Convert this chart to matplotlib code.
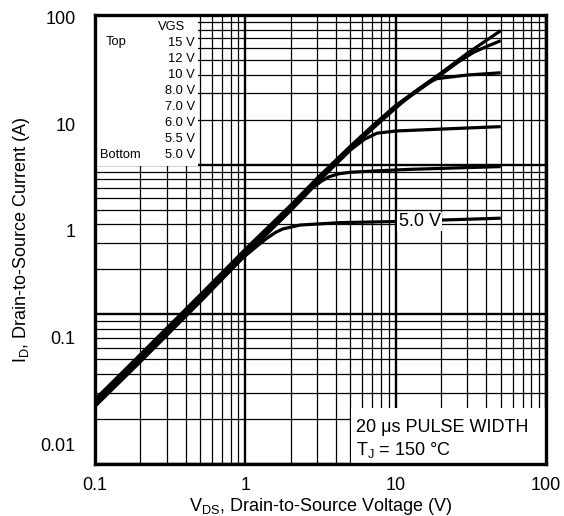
import matplotlib
matplotlib.use('Agg')
import matplotlib.pyplot as plt
from matplotlib.patches import Rectangle
from matplotlib.ticker import FixedLocator, FixedFormatter, NullLocator, LogLocator, NullFormatter

plt.rcParams['font.family'] = ['Liberation Sans', 'DejaVu Sans']
plt.rcParams['mathtext.default'] = 'regular'

# ---- data (VDS in V, ID in A) ----
vds_15 = [0.1, 0.2, 0.5, 1, 2, 3, 5, 7, 10, 14, 20, 30, 50]
id_15 = [0.0262, 0.069, 0.25, 0.67, 1.73, 3.1, 6.2, 9.6, 14.9, 21, 30, 46, 75]

vds_12 = [0.1, 0.2, 0.5, 1, 2, 3, 5, 7, 10, 14, 20, 26, 33, 40, 50]
id_12 = [0.0255, 0.067, 0.243, 0.65, 1.68, 3.0, 6.0, 9.3, 14.5, 20.4, 29, 38, 47, 53, 60.4]

vds_10 = [0.1, 0.2, 0.5, 1, 2, 3, 5, 7, 10, 13, 16.1, 18.8, 30, 50]
id_10 = [0.0248, 0.065, 0.236, 0.63, 1.63, 2.9, 5.85, 9.0, 14.1, 19.3, 24.0, 26.6, 28.8, 30.2]

vds_8 = [0.1, 0.2, 0.5, 1, 2, 3, 5, 6.2, 7.5, 10, 17.8, 50]
id_8 = [0.0240, 0.063, 0.229, 0.61, 1.58, 2.82, 5.7, 7.2, 8.2, 8.6, 8.9, 9.45]

vds_6 = [0.1, 0.2, 0.5, 1, 2, 2.8, 3.2, 3.6, 4.2, 5, 7.9, 12.5, 50]
id_6 = [0.0233, 0.061, 0.222, 0.59, 1.54, 2.52, 2.9, 3.2, 3.42, 3.53, 3.65, 3.76, 3.99]

vds_5 = [0.1, 0.2, 0.5, 0.96, 1.2, 1.39, 1.6, 1.78, 2.31, 4.27, 10, 50]
id_5 = [0.0226, 0.059, 0.215, 0.555, 0.72, 0.85, 0.97, 1.04, 1.13, 1.19, 1.22, 1.31]

legend_vgs = ['15 V', '12 V', '10 V', '8.0 V', '7.0 V', '6.0 V', '5.5 V', '5.0 V']
x_ticks = [0.1, 1, 10, 100]
x_ticklabels = ['0.1', '1', '10', '100']
y_ticks = [0.01, 0.1, 1, 10, 100]
y_ticklabels = ['0.01', '0.1', '1', '10', '100']

fig = plt.figure(figsize=(5.64, 5.16), dpi=100)
ax = fig.add_axes([95/564, 1-464/516, 451/564, 449/516])
ax2 = ax.twinx()

# horizontal grid (drawn on a separate 3-decade log scale, as in the datasheet)
ax2.set_yscale('log')
ax2.set_ylim(1, 1000)
ax2.yaxis.set_major_locator(LogLocator(base=10))
ax2.yaxis.set_minor_locator(LogLocator(base=10, subs=range(2, 10)))
ax2.grid(axis='y', which='major', color='black', lw=1.7)
ax2.grid(axis='y', which='minor', color='black', lw=0.9)
ax2.tick_params(which='both', length=0, labelright=False)
ax2.yaxis.set_minor_formatter(NullFormatter())
for s in ax2.spines.values():
    s.set_visible(False)

ax.set_zorder(ax2.get_zorder() + 1)
ax.patch.set_visible(False)

ax.set_xscale('log')
ax.set_yscale('log')
ax.set_xlim(0.1, 100)
ax.set_ylim(0.00651, 105.1)

for v, i in [(vds_15, id_15), (vds_12, id_12), (vds_10, id_10),
             (vds_8, id_8), (vds_6, id_6), (vds_5, id_5)]:
    ax.plot(v, i, color='black', lw=2.3, solid_capstyle='butt',
            solid_joinstyle='round', zorder=2)

ax.xaxis.set_major_locator(FixedLocator(x_ticks))
ax.xaxis.set_major_formatter(FixedFormatter(x_ticklabels))
ax.xaxis.set_minor_locator(LogLocator(base=10, subs=range(2, 10)))
ax.xaxis.set_minor_formatter(NullFormatter())
ax.yaxis.set_major_locator(FixedLocator(y_ticks))
ax.yaxis.set_major_formatter(FixedFormatter(y_ticklabels))
ax.yaxis.set_minor_locator(NullLocator())
ax.grid(axis='x', which='major', color='black', lw=1.7)
ax.grid(axis='x', which='minor', color='black', lw=0.9)
ax.set_axisbelow(True)
ax.tick_params(which='both', length=0, labelsize=13)
ax.tick_params(axis='x', pad=9)
ax.tick_params(axis='y', pad=14)
for s in ax.spines.values():
    s.set_linewidth(2.4)
    s.set_zorder(5)

ax.set_xlabel('V$_{DS}$, Drain-to-Source Voltage (V)', fontsize=13, labelpad=2)
ax.set_ylabel('I$_{D}$, Drain-to-Source Current (A)', fontsize=13, labelpad=6)

# legend box
ax.add_patch(Rectangle((0, 0.664), 0.229, 0.336, transform=ax.transAxes,
                       facecolor='white', edgecolor='none', zorder=3))
ax.text(0.17, 0.9733, 'VGS', transform=ax.transAxes, ha='center', va='center',
        fontsize=9.3, zorder=4)
ax.text(0.024, 0.94, 'Top', transform=ax.transAxes, ha='left', va='center',
        fontsize=9.3, zorder=4)
ax.text(0.011, 0.688, 'Bottom', transform=ax.transAxes, ha='left', va='center',
        fontsize=9.3, zorder=4)
ys = [0.9376, 0.9016, 0.8664, 0.8315, 0.795, 0.7594, 0.7238, 0.6882]
for lab, yy in zip(legend_vgs, ys):
    ax.text(0.2217, yy, lab, transform=ax.transAxes, ha='right', va='center',
            fontsize=9.3, zorder=4)

# condition box
ax.add_patch(Rectangle((0.5676, 0), 0.4324, 0.1247, transform=ax.transAxes,
                       facecolor='white', edgecolor='none', zorder=3))
ax.text(0.5787, 0.0824, '20 \u03bcs PULSE WIDTH', transform=ax.transAxes,
        ha='left', va='center', fontsize=13, zorder=4)
ax.text(0.5787, 0.0312, 'T$_{J}$ = 150 \u00b0C', transform=ax.transAxes,
        ha='left', va='center', fontsize=13, zorder=4)

# curve label
ax.text(14.5, 1.22, '5.0 V', ha='center', va='center', fontsize=13, zorder=4,
        bbox=dict(facecolor='white', edgecolor='none', pad=1.0))

fig.savefig('out.png', dpi=100)
